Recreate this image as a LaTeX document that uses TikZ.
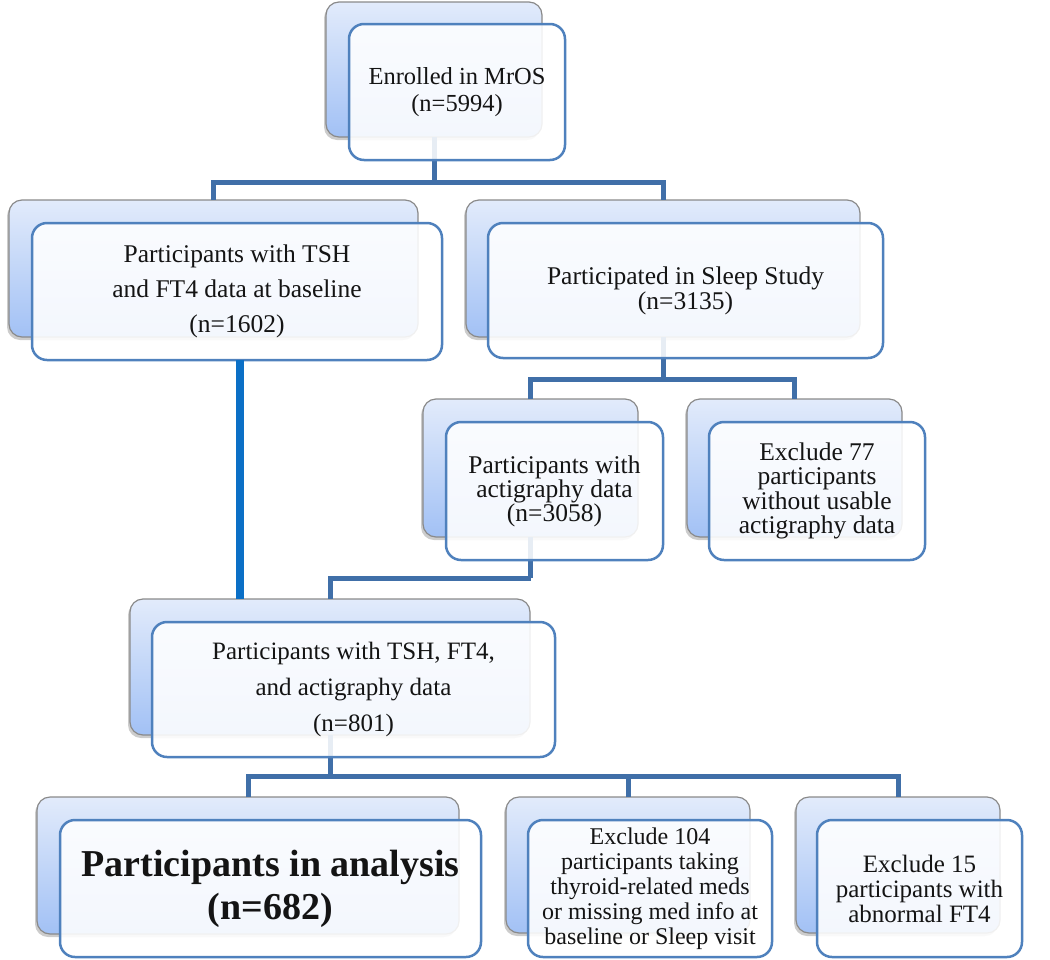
\documentclass[tikz,border=0pt]{standalone}
\usepackage{fontspec}
\setmainfont{Liberation Serif}
\usetikzlibrary{shadows}
\definecolor{backtop}{HTML}{E2EBFB}
\definecolor{backbot}{HTML}{A2C1F5}
\definecolor{backline}{HTML}{8A8A8A}
\definecolor{frontline}{HTML}{4F81BD}
\definecolor{connblue}{HTML}{406FA8}
\definecolor{mainblue}{HTML}{0B6FC6}
\definecolor{textcol}{HTML}{141414}
\tikzset{
  backbox/.style={rectangle, rounded corners=13pt, draw=backline, line width=1.2pt,
    top color=backtop, bottom color=backbot,
    drop shadow={shadow xshift=-2pt, shadow yshift=-3pt, fill=black, opacity=0.2},
    anchor=north west, inner sep=0pt, outer sep=0pt},
  frontbox/.style={rectangle, rounded corners=15pt, draw=frontline, line width=2.5pt,
    fill=white, fill opacity=0.88, text opacity=1, anchor=north west,
    inner sep=0pt, outer sep=0pt, align=center, text=textcol},
  conn/.style={draw=connblue, line width=5pt},
  mainconn/.style={draw=mainblue, line width=8pt},
}
\begin{document}
\begin{tikzpicture}[x=1pt,y=-1pt]
\useasboundingbox (0,0) rectangle (1050,959);
% back boxes
\node[backbox, minimum width=216pt, minimum height=135pt] (b1back) at (326,2) {};
\node[backbox, minimum width=409pt, minimum height=137pt] (b2back) at (9,200) {};
\node[backbox, minimum width=394pt, minimum height=137pt] (b3back) at (466,200) {};
\node[backbox, minimum width=215pt, minimum height=138pt] (b4back) at (423,399) {};
\node[backbox, minimum width=215pt, minimum height=138pt] (b5back) at (687,399) {};
\node[backbox, minimum width=400pt, minimum height=136pt] (b6back) at (130,599) {};
\node[backbox, minimum width=422pt, minimum height=137pt] (b7back) at (37,797) {};
\node[backbox, minimum width=244pt, minimum height=136pt] (b8back) at (506,797) {};
\node[backbox, minimum width=204pt, minimum height=136pt] (b9back) at (796,797) {};
% connectors
\draw[conn] (b1back.south) -- ++(0,45) coordinate (j1);
\draw[conn] (b2back.north) |- (j1) -| (b3back.north);
\draw[conn] (b3back.south) -- ++(0,42) coordinate (j2);
\draw[conn] (b4back.north) |- (j2) -| (b5back.north);
\draw[conn] (b4back.south) -- ++(0,41) coordinate (j3);
\draw[conn] (j3) -| (b6back.north);
\draw[conn] (b6back.south) -- ++(0,41) coordinate (j4);
\draw[conn] (b7back.north) |- (j4) -| (b9back.north);
\draw[conn] (b8back.north) -- (b8back.north |- j4);
% front boxes
\node[frontbox, minimum width=216pt, minimum height=136pt,
  font=\fontsize{24.5}{27}\selectfont] (b1) at (349,24)
  {Enrolled in MrOS\\(n=5994)};
\node[frontbox, minimum width=410pt, minimum height=137pt,
  font=\fontsize{25.5}{35}\selectfont] (b2) at (32,223)
  {Participants with TSH\\and FT4 data at baseline\\(n=1602)};
\node[frontbox, minimum width=395pt, minimum height=135pt,
  font=\fontsize{25.5}{25}\selectfont] (b3) at (488,223)
  {Participated in Sleep Study\\(n=3135)};
\node[frontbox, minimum width=217pt, minimum height=138pt,
  font=\fontsize{25.5}{24}\selectfont] (b4) at (446,422)
  {Participants with\\actigraphy data\\(n=3058)};
\node[frontbox, minimum width=216pt, minimum height=138pt,
  font=\fontsize{25.5}{24.5}\selectfont] (b5) at (709,422)
  {Exclude 77\\participants\\without usable\\actigraphy data};
\node[frontbox, minimum width=403pt, minimum height=135pt,
  font=\fontsize{25}{36}\selectfont] (b6) at (152,622)
  {Participants with TSH, FT4,\\and actigraphy data\\(n=801)};
\node[frontbox, minimum width=421pt, minimum height=137pt,
  font=\fontsize{38}{43}\selectfont\bfseries] (b7) at (60,820)
  {Participants in analysis\\(n=682)};
\node[frontbox, minimum width=244pt, minimum height=137pt,
  font=\fontsize{24}{25}\selectfont] (b8) at (528,820)
  {Exclude 104\\participants taking\\thyroid-related meds\\or missing med info at\\baseline or Sleep visit};
\node[frontbox, minimum width=205pt, minimum height=137pt,
  font=\fontsize{25}{25}\selectfont] (b9) at (817,820)
  {Exclude 15\\participants with\\abnormal FT4};
% main thick connector
\draw[mainconn] ([xshift=3pt]b2.south) -- ([xshift=3pt]b2.south |- b6back.north);
\end{tikzpicture}
\end{document}
